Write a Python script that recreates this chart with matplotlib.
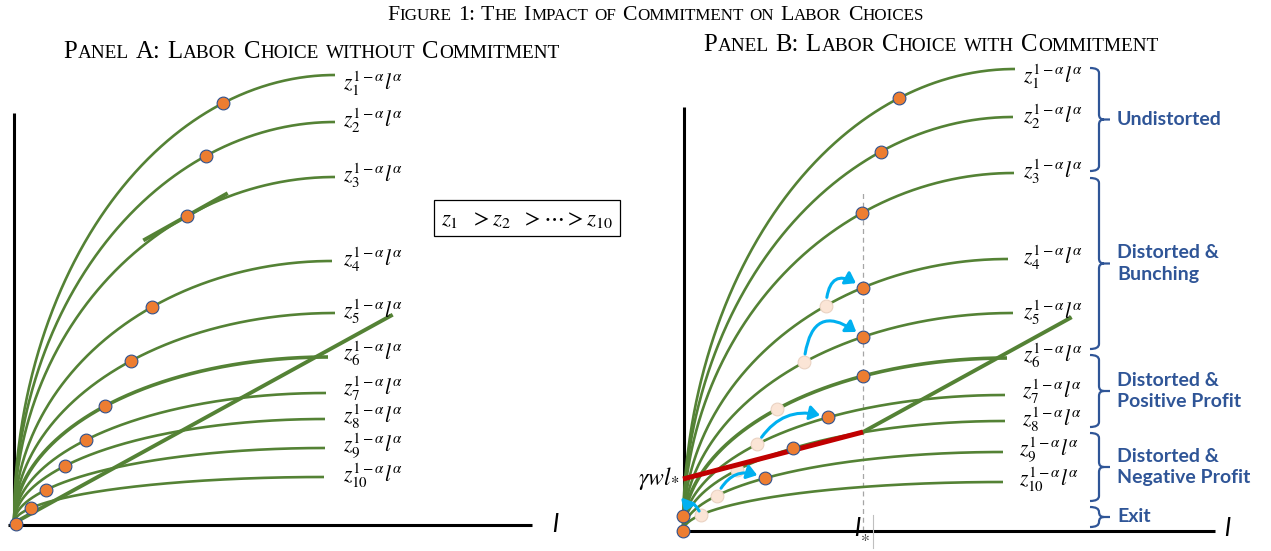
import numpy as np
import matplotlib
matplotlib.use('Agg')
import matplotlib.pyplot as plt
from matplotlib.patches import FancyArrowPatch, PathPatch
from matplotlib.path import Path

plt.rcParams['mathtext.fontset'] = 'stix'

# ---- data (output units ~ pixels measured from each panel's origin) ----
z_index = ['1', '2', '3', '4', '5', '6', '7', '8', '9', '10']

# Panel A: curve heights / widths and optimal labour choice
a_height = [448, 401, 346, 262, 210, 166, 130, 104, 75, 46]
a_width = [321, 321, 321, 318, 321, 314, 312, 311, 311, 310]
a_choice = [209, 192, 173, 138, 117, 91, 72, 51, 32, 17]

# Panel B
b_height = [462, 414, 358, 272, 218, 173, 136, 110, 79, 49]
b_width = [332, 330, 331, 325, 330, 324, 322, 322, 320, 320]
b_choice = [216, 198, 179, 180, 180, 180, 145, 110, 82, None]   # with commitment
b_free = [None, None, None, 143, 121, 94, 74, 54, 34, 18]      # without commitment
b_arrows = ['4', '5', '7', '9', '10']
b_arrow_rad = [-0.9, -0.9, -0.4, -0.5, 1.3]

wage = 0.55
l_star = 180
gamma_wl = 52
exit_point = (0, 15)
a_cost_end = 377
b_cost_end = 387
a_tangent = (131, 212)       # tangent segment drawn on z3

groups = ['Undistorted', 'Distorted &\nBunching', 'Distorted &\nPositive Profit',
          'Distorted &\nNegative Profit', 'Exit']
group_span = [(463, 360), (353, 182), (176, 104), (98, 30), (24, 4)]

# ---- style ----
GREEN = '#548235'
ORANGE = '#ED7D31'
EDGE = '#2F528F'
PALE = '#FBE5D6'
BLUE = '#2F5597'
CYAN = '#00B0F0'
RED = '#C00000'

W, H = 1271, 551
fig = plt.figure(figsize=(W / 100, H / 100), dpi=100)


def panel_axes(ox, oy):
    ax = fig.add_axes([0, 0, 1, 1])
    ax.set_xlim(-ox, W - ox)
    ax.set_ylim(oy - H, oy)
    ax.axis('off')
    ax.patch.set_alpha(0)
    return ax


def arc(l, height, width):
    t = np.asarray(l, dtype=float) / width
    return height * np.sqrt(1 - (1 - t) ** 2)


def draw_curves(ax, heights, widths):
    for i, (h, w) in enumerate(zip(heights, widths)):
        l = np.linspace(0, w, 300)
        ax.plot(l, arc(l, h, w), color=GREEN, lw=2.6 if i == 5 else 1.9,
                solid_capstyle='butt', zorder=2)


def dot(ax, x, y, pale=False):
    ax.plot([x], [y], 'o', ms=9.2, mfc=PALE if pale else ORANGE,
            mec='#EAD3C3' if pale else EDGE, mew=0.8, zorder=3.5 if pale else 6)


def brace(ax, x, top, bot):
    x0, x2, r = x - 9, x + 11, min(5, (top - bot) / 4)
    mid = (top + bot) / 2
    verts = [(x0, top), (x, top), (x, top - r), (x, mid + r), (x, mid), (x + r, mid),
             (x2, mid), (x + r, mid), (x, mid), (x, mid - r), (x, bot + r),
             (x, bot), (x0, bot)]
    codes = [Path.MOVETO, Path.CURVE3, Path.CURVE3, Path.LINETO, Path.CURVE3,
             Path.CURVE3, Path.LINETO, Path.MOVETO, Path.CURVE3, Path.CURVE3,
             Path.LINETO, Path.CURVE3, Path.CURVE3]
    ax.add_patch(PathPatch(Path(verts, codes), fc='none', ec=BLUE, lw=1.6))


def small_caps(xc, base, s, size, ratio=0.78):
    r = fig.canvas.get_renderer()
    runs = []
    for ch in s:
        kind = 'sp' if ch == ' ' else ('lo' if ch.islower() else 'up')
        if runs and runs[-1][1] == kind:
            runs[-1][0] += ch
        else:
            runs.append([ch, kind])
    items = []
    for chunk, kind in runs:
        if kind == 'sp':
            items.append((None, len(chunk) * 0.25 * size * 100 / 72))
            continue
        t = fig.text(0, 1 - base / H, chunk.upper(), family='Liberation Serif',
                     fontsize=size * ratio if kind == 'lo' else size,
                     va='baseline', ha='left')
        items.append((t, t.get_window_extent(r).width + 0.6))
    x = xc - sum(w for _, w in items) / 2
    for t, w in items:
        if t is not None:
            t.set_x(x / W)
        x += w


def label(ax, x, y, i):
    ax.text(x, y, r'$z_{%s}^{1-\alpha}l^{\alpha}$' % i, fontsize=15.5,
            ha='left', va='center')


# ---- titles ----
small_caps(656, 20, 'Figure 1: The Impact of Commitment on Labor Choices', 15.7)
small_caps(312, 58, 'Panel A: Labor Choice without Commitment', 17.8)
small_caps(931, 51, 'Panel B: Labor Choice with Commitment', 17.8)

# ---- Panel A ----
axA = panel_axes(14, 523)
axA.plot([0, 0], [0, 410], color='black', lw=2.2, solid_capstyle='butt')
axA.plot([-6, 518], [-1.5, -1.5], color='black', lw=2.2, solid_capstyle='butt')
axA.text(538, -2, 'l', family='Lato', style='italic', fontsize=19, va='center')
draw_curves(axA, a_height, a_width)
lc = np.array([0, a_cost_end])
axA.plot(lc, wage * lc, color=GREEN, lw=2.8, zorder=3)
lt = np.array(a_tangent)
c3 = a_choice[2]
h3, w3 = a_height[2], a_width[2]
slope3 = h3 / w3 * (1 - c3 / w3) / np.sqrt(1 - (1 - c3 / w3) ** 2)
axA.plot(lt, arc(c3, h3, w3) + slope3 * (lt - c3), color=GREEN, lw=2.8, zorder=3)
dot(axA, 2, -1)
for i in range(10):
    dot(axA, a_choice[i], arc(a_choice[i], a_height[i], a_width[i]))
a_lab_y = [84, 121, 176, 260, 312, 354, 389, 417, 446, 476]
for i, zi in enumerate(z_index):
    label(axA, 329, 523 - a_lab_y[i], zi)
axA.text(513, 305, r'$z_1\ \ > z_2\ \ > \cdots > z_{10}$', fontsize=16.5,
         ha='center', va='center',
         bbox=dict(boxstyle='square,pad=0.3', fc='white', ec='black', lw=0.9))

# ---- Panel B ----
axB = panel_axes(683, 531)
axB.plot([1, 1], [0, 424], color='black', lw=2.2, solid_capstyle='butt')
axB.plot([-6, 532], [0, 0], color='black', lw=2.2, solid_capstyle='butt')
axB.text(541, 2, 'l', family='Lato', style='italic', fontsize=19, va='center')
draw_curves(axB, b_height, b_width)
axB.plot([l_star, l_star], [0, 339], color='#A6A6A6', lw=0.9, ls=(0, (4, 3)), zorder=1)
axB.plot([190, 190], [-17, 16], color='#BFBFBF', lw=0.8)
axB.text(l_star - 3, 2, 'l', family='Lato', style='italic', fontsize=19,
         ha='right', va='center')
axB.text(l_star - 3, -8, r'$*$', fontsize=13, ha='left', va='center', color='#404040')
axB.plot([l_star, b_cost_end], [wage * l_star, wage * b_cost_end], color=GREEN,
         lw=2.8, zorder=3)
axB.plot([0, l_star], [gamma_wl, wage * l_star], color=RED, lw=3.6, zorder=4,
         solid_capstyle='butt')
axB.text(-4, gamma_wl, r'$\gamma w l_{*}$', fontsize=17, ha='right', va='center')

pts = {}
for i, zi in enumerate(z_index):
    if b_free[i] is not None:
        p = (b_free[i], arc(b_free[i], b_height[i], b_width[i]))
        dot(axB, *p, pale=True)
        pts[zi] = [p, None]
    if b_choice[i] is not None:
        q = (b_choice[i], arc(b_choice[i], b_height[i], b_width[i]))
    else:
        q = exit_point
    dot(axB, *q)
    if zi in pts:
        pts[zi][1] = q
dot(axB, 0, 0)

for zi, rad in zip(b_arrows, b_arrow_rad):
    p, q = pts[zi]
    shrink = 3 if zi == '10' else 6
    axB.add_patch(FancyArrowPatch(p, q, connectionstyle='arc3,rad=%s' % rad,
                                  arrowstyle='-|>,head_length=0.5,head_width=0.35',
                                  mutation_scale=12, lw=2.2, color=CYAN,
                                  shrinkA=shrink, shrinkB=shrink, zorder=5))

b_lab_y = [77, 117, 172, 258, 313, 356, 392, 420, 450, 480]
b_lab_x = [1023, 1023, 1023, 1023, 1023, 1023, 1022, 1022, 1019, 1019]
for i, zi in enumerate(z_index):
    label(axB, b_lab_x[i] - 683, 531 - b_lab_y[i], zi)

for name, (top, bot) in zip(groups, group_span):
    brace(axB, 416, top, bot)
    axB.text(434, (top + bot) / 2, name, family='Lato', weight='bold', fontsize=14,
             color=BLUE, ha='left', va='center', linespacing=1.3)

fig.savefig('out.png', dpi=100)
